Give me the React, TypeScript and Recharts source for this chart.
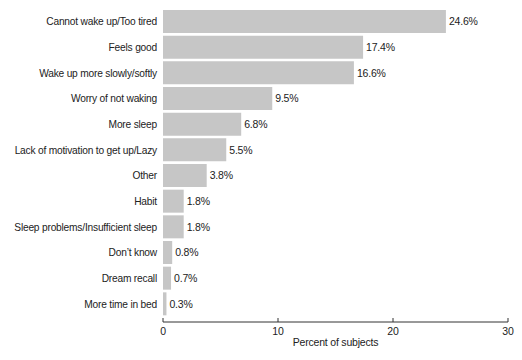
import { BarChart, Bar, XAxis, YAxis, LabelList } from 'recharts'

const reasons = [
  'Cannot wake up/Too tired',
  'Feels good',
  'Wake up more slowly/softly',
  'Worry of not waking',
  'More sleep',
  'Lack of motivation to get up/Lazy',
  'Other',
  'Habit',
  'Sleep problems/Insufficient sleep',
  'Don’t know',
  'Dream recall',
  'More time in bed',
]

const percents = [24.6, 17.4, 16.6, 9.5, 6.8, 5.5, 3.8, 1.8, 1.8, 0.8, 0.7, 0.3]

const xTicks = [0, 10, 20, 30]

const data = reasons.map((reason, i) => ({ reason, pct: percents[i] }))

const font = '"Liberation Sans", Arial, sans-serif'
const txt = { fontSize: 10.5, fill: '#222', fontFamily: font, letterSpacing: -0.2 }

// single-line category labels (the default tick wraps long text)
function ReasonTick({ x, y, payload }: any) {
  return (
    <text
      x={x + 2}
      y={y}
      dy="0.35em"
      textAnchor="end"
      fontSize={10.2}
      letterSpacing={-0.2}
      fill="#222"
      fontFamily={font}
    >
      {payload.value}
    </text>
  )
}

export default function App() {
  return (
    <div style={{ position: 'absolute', left: 0, top: 0, background: '#fff', fontFamily: font }}>
      <BarChart
        width={522}
        height={360}
        data={data}
        layout="vertical"
        margin={{ top: 9, right: 14, bottom: 0, left: 0 }}
      >
        <XAxis
          type="number"
          domain={[0, 30]}
          ticks={xTicks}
          height={38}
          tickSize={-4}
          tickMargin={10}
          stroke="#333"
          tick={txt}
          label={{
            value: 'Percent of subjects',
            position: 'insideBottom',
            offset: 14,
            style: txt,
          }}
        />
        <YAxis
          type="category"
          dataKey="reason"
          width={163}
          axisLine={false}
          tickLine={false}
          padding={{ top: 0, bottom: 5 }}
          interval={0}
          tick={<ReasonTick />}
        />
        <Bar dataKey="pct" fill="#c6c6c6" barSize={23} isAnimationActive={false}>
          <LabelList
            dataKey="pct"
            position="right"
            offset={3}
            formatter={(v: any) => `${v}%`}
            style={txt}
          />
        </Bar>
      </BarChart>
    </div>
  )
}
